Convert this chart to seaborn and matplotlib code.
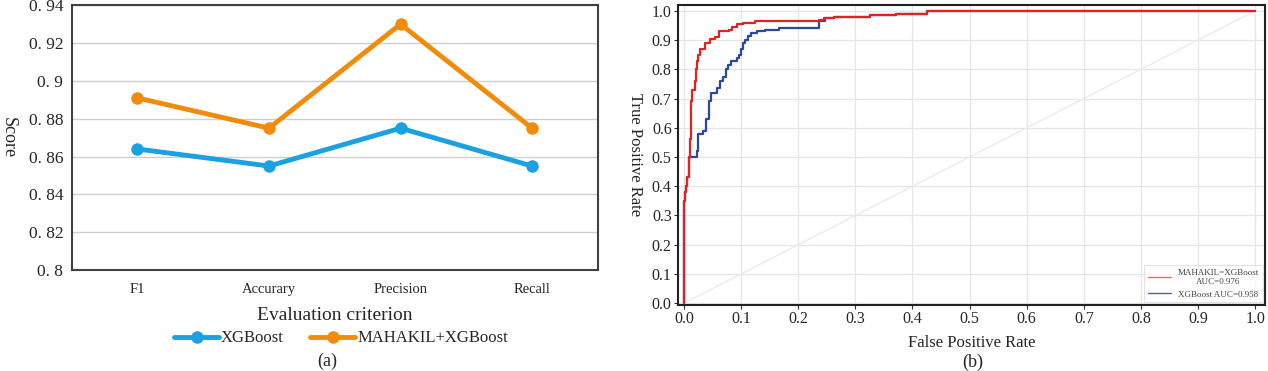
import matplotlib
matplotlib.use("Agg")
import matplotlib.pyplot as plt
import seaborn as sns
import pandas as pd
from matplotlib.lines import Line2D

# ---------------- data ----------------
criteria = ["F1", "Accurary", "Precision", "Recall"]
xgb_scores = [0.864, 0.855, 0.875, 0.855]
mahakil_scores = [0.891, 0.875, 0.930, 0.875]
score_ticks = [0.80, 0.82, 0.84, 0.86, 0.88, 0.90, 0.92, 0.94]
score_tick_labels = ["0. 8", "0. 82", "0. 84", "0. 86", "0. 88", "0. 9", "0. 92", "0. 94"]

mahakil_fpr = [0.0, 0.0, 0.002, 0.004, 0.006, 0.008, 0.010, 0.012, 0.0145, 0.019, 0.021,
               0.023, 0.025, 0.028, 0.037, 0.045, 0.054, 0.062, 0.078, 0.084, 0.092,
               0.104, 0.125, 0.236, 0.245, 0.262, 0.326, 0.372, 0.425, 1.0]
mahakil_tpr = [0.0, 0.35, 0.38, 0.40, 0.43, 0.50, 0.56, 0.69, 0.73, 0.76, 0.80,
               0.83, 0.85, 0.87, 0.89, 0.905, 0.91, 0.93, 0.935, 0.945, 0.955,
               0.96, 0.965, 0.97, 0.975, 0.98, 0.985, 0.99, 1.0, 1.0]
xgb_fpr = [0.0, 0.0, 0.002, 0.004, 0.006, 0.008, 0.022, 0.025, 0.034, 0.038, 0.044,
           0.048, 0.058, 0.063, 0.068, 0.073, 0.077, 0.083, 0.092, 0.096, 0.099,
           0.103, 0.107, 0.112, 0.118, 0.128, 0.142, 0.166, 0.236, 0.246, 0.262,
           0.326, 0.372, 0.425, 1.0]
xgb_tpr = [0.0, 0.35, 0.38, 0.40, 0.43, 0.50, 0.52, 0.58, 0.59, 0.63, 0.69,
           0.72, 0.735, 0.76, 0.775, 0.80, 0.815, 0.83, 0.84, 0.85, 0.87,
           0.89, 0.90, 0.915, 0.925, 0.93, 0.935, 0.94, 0.965, 0.975, 0.98,
           0.985, 0.99, 1.0, 1.0]
roc_ticks = [0.0, 0.1, 0.2, 0.3, 0.4, 0.5, 0.6, 0.7, 0.8, 0.9, 1.0]

# ---------------- style ----------------
sns.set_theme(style="white")
plt.rcParams["font.family"] = ["Liberation Serif", "DejaVu Serif"]

fig = plt.figure(figsize=(12.68, 3.71), dpi=100)

BLUE = "#1ba1e2"
ORANGE = "#f08c0c"

# ---------------- panel (a) ----------------
ax1 = fig.add_axes([0.0565, 0.272, 0.415, 0.714])
df_a = pd.DataFrame({
    "criterion": criteria * 2,
    "score": xgb_scores + mahakil_scores,
    "model": ["XGBoost"] * 4 + ["MAHAKIL+XGBoost"] * 4,
})
sns.lineplot(data=df_a, x="criterion", y="score", hue="model",
             palette={"XGBoost": BLUE, "MAHAKIL+XGBoost": ORANGE},
             marker="o", markersize=9, markeredgewidth=0, linewidth=3.5,
             sort=False, ax=ax1, legend=False)
ax1.set_xlim(-0.5, 3.5)
ax1.set_ylim(0.80, 0.94)
ax1.set_yticks(score_ticks)
ax1.set_yticklabels(score_tick_labels, fontsize=12.5)
ax1.tick_params(axis="x", labelsize=10.5, length=0, pad=9)
ax1.tick_params(axis="y", length=0, pad=6)
ax1.grid(axis="y", color="#cfcfcf", linewidth=1.0)
ax1.grid(axis="x", visible=False)
for s in ax1.spines.values():
    s.set_color("#404040")
    s.set_linewidth(1.5)
ax1.set_xlabel("Evaluation criterion", fontsize=14)
ax1.xaxis.set_label_coords(0.5, -0.14)
ax1.set_ylabel("Score", fontsize=13, rotation=270, va="center")
ax1.yaxis.set_label_coords(-0.121, 0.5)
handles_a = [Line2D([], [], color=BLUE, lw=3.5, marker="o", markersize=9, markeredgewidth=0),
             Line2D([], [], color=ORANGE, lw=3.5, marker="o", markersize=9, markeredgewidth=0)]
fig.legend(handles_a, ["XGBoost", "MAHAKIL+XGBoost"], loc="center",
           bbox_to_anchor=(0.269, 0.088), ncol=2, frameon=False, fontsize=12,
           handlelength=2.7, handletextpad=0.1, columnspacing=1.6)
fig.text(0.258, 0.025, "(a)", ha="center", va="center", fontsize=13)

# ---------------- panel (b) ----------------
ax2 = fig.add_axes([0.5347, 0.178, 0.4633, 0.8086])
ax2.plot([0, 1], [0, 1], color="#ebebeb", lw=1.0, zorder=1)
df_x = pd.DataFrame({"fpr": xgb_fpr, "tpr": xgb_tpr})
df_m = pd.DataFrame({"fpr": mahakil_fpr, "tpr": mahakil_tpr})
sns.lineplot(data=df_x, x="fpr", y="tpr", sort=False, estimator=None,
             color="#2a48a0", lw=1.6, drawstyle="steps-post", ax=ax2, zorder=3)
sns.lineplot(data=df_m, x="fpr", y="tpr", sort=False, estimator=None,
             color="#e02222", lw=1.6, drawstyle="steps-post", ax=ax2, zorder=4)
ax2.set_xlim(-0.0105, 1.018)
ax2.set_ylim(-0.006, 1.02)
ax2.set_xticks(roc_ticks)
ax2.set_yticks(roc_ticks)
ax2.set_xticklabels([f"{t:.1f}" for t in roc_ticks])
ax2.set_yticklabels([f"{t:.1f}" for t in roc_ticks])
ax2.tick_params(axis="both", labelsize=11.5, direction="out", length=3, width=0.8,
                color="#333333", bottom=True, left=True, pad=1.5)
ax2.grid(True, color="#e6e6e6", linewidth=0.9)
for s in ax2.spines.values():
    s.set_color("#222222")
    s.set_linewidth(1.5)
ax2.set_xlabel("False Positive Rate", fontsize=12)
ax2.xaxis.set_label_coords(0.5, -0.10)
ax2.set_ylabel("True Positive Rate", fontsize=12, rotation=270, va="center")
ax2.yaxis.set_label_coords(-0.074, 0.5)
handles_b = [Line2D([], [], color="#f26a50", lw=1.0),
             Line2D([], [], color="#5060a8", lw=1.0)]
leg = ax2.legend(handles_b, ["MAHAKIL=XGBoost\nAUC=0.976", "XGBoost AUC=0.958"],
                 loc="lower right", fontsize=6.5, frameon=True, fancybox=False,
                 borderaxespad=0.3, handlelength=2.5, labelspacing=0.5)
leg.get_frame().set_edgecolor("#dddddd")
leg.get_frame().set_linewidth(0.8)
for t in leg.get_texts():
    t.set_color("#444444")
    t.set_ha("center")
fig.text(0.767, 0.022, "(b)", ha="center", va="center", fontsize=13)

fig.savefig("out.png", dpi=100)
